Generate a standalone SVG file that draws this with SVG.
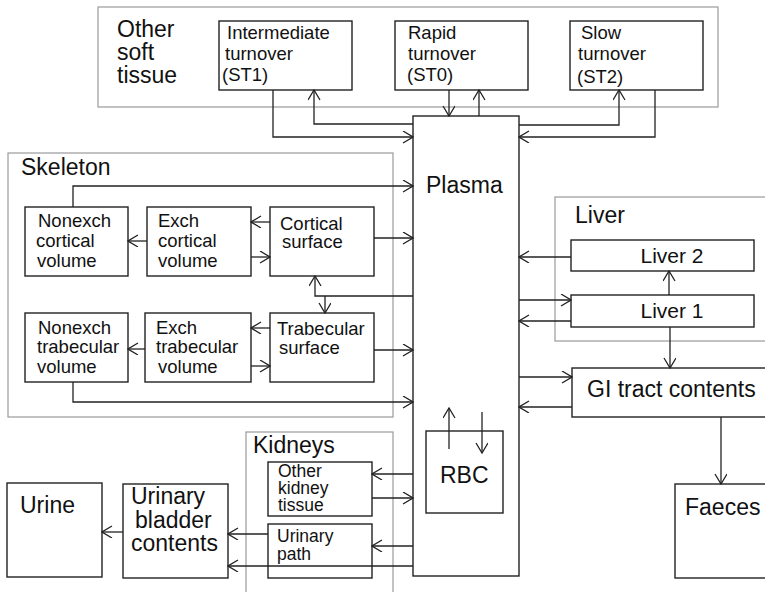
<svg xmlns="http://www.w3.org/2000/svg" width="765" height="592" viewBox="0 0 765 592">
<style>
.grp{fill:none;stroke:#9a9a9a;stroke-width:1.2}
.box{fill:#fff;stroke:#222;stroke-width:1.4}
.big{font-family:"Liberation Sans",Arial,sans-serif;font-size:23px;fill:#111}
.sm{font-family:"Liberation Sans",Arial,sans-serif;font-size:18.5px;fill:#111}
.kd{font-family:"Liberation Sans",Arial,sans-serif;font-size:17.5px;fill:#111}
.lv{font-family:"Liberation Sans",Arial,sans-serif;font-size:21px;fill:#111}
.c path{fill:none;stroke:#222;stroke-width:1.3;marker-end:url(#ah)}
</style>
<defs>
<marker id="ah" markerUnits="userSpaceOnUse" markerWidth="12" markerHeight="14" refX="11" refY="6" orient="auto">
<path d="M1,0 L11,6 L1,12" fill="none" stroke="#222" stroke-width="1.3"/>
</marker>
</defs>
<rect width="765" height="592" fill="#fff"/>

<g id="other-soft-tissue">
<rect class="grp" x="98" y="7" width="620" height="100"/>
<text class="big" x="117" y="37">Other</text>
<text class="big" x="117" y="60">soft</text>
<text class="big" x="117" y="83">tissue</text>
</g>
<g id="st1"><rect class="box" x="219" y="21" width="133" height="69"/>
<text class="sm" x="227" y="39">Intermediate</text><text class="sm" x="225" y="60">turnover</text><text class="sm" x="222" y="81">(ST1)</text></g>
<g id="st0"><rect class="box" x="395" y="21" width="133" height="69"/>
<text class="sm" x="408" y="39">Rapid</text><text class="sm" x="408" y="60">turnover</text><text class="sm" x="407" y="81">(ST0)</text></g>
<g id="st2"><rect class="box" x="570" y="21" width="133" height="69"/>
<text class="sm" x="581" y="39">Slow</text><text class="sm" x="578" y="60">turnover</text><text class="sm" x="577" y="83">(ST2)</text></g>

<g id="plasma"><rect class="box" x="413" y="116" width="106" height="460"/>
<text class="big" x="426" y="193">Plasma</text></g>
<g id="rbc"><rect class="box" x="426" y="431" width="77" height="82"/>
<text class="big" x="440" y="483">RBC</text></g>

<g id="skeleton">
<rect class="grp" x="8" y="153" width="385" height="264"/>
<text class="big" x="21" y="175">Skeleton</text>
</g>
<g id="nonexch-cortical"><rect class="box" x="25" y="207" width="103" height="69"/>
<text class="sm" x="38" y="227">Nonexch</text><text class="sm" x="36" y="247">cortical</text><text class="sm" x="37" y="267">volume</text></g>
<g id="exch-cortical"><rect class="box" x="147" y="207" width="104" height="69"/>
<text class="sm" x="158" y="227">Exch</text><text class="sm" x="158" y="247">cortical</text><text class="sm" x="158" y="267">volume</text></g>
<g id="cortical-surface"><rect class="box" x="270" y="207" width="104" height="69"/>
<text class="sm" x="280" y="230">Cortical</text><text class="sm" x="282" y="248">surface</text></g>
<g id="nonexch-trabecular"><rect class="box" x="25" y="313" width="103" height="69"/>
<text class="sm" x="38" y="334">Nonexch</text><text class="sm" x="37" y="353">trabecular</text><text class="sm" x="37" y="373">volume</text></g>
<g id="exch-trabecular"><rect class="box" x="145" y="313" width="106" height="69"/>
<text class="sm" x="156" y="334">Exch</text><text class="sm" x="156" y="353">trabecular</text><text class="sm" x="158" y="373">volume</text></g>
<g id="trabecular-surface"><rect class="box" x="270" y="313" width="104" height="69"/>
<text class="sm" x="277" y="335">Trabecular</text><text class="sm" x="279" y="354">surface</text></g>

<g id="liver">
<rect class="grp" x="555" y="197" width="220" height="144"/>
<text class="big" x="575" y="223">Liver</text>
</g>
<g id="liver2"><rect class="box" x="571" y="240" width="183" height="31"/>
<text class="lv" x="672" y="263" text-anchor="middle">Liver 2</text></g>
<g id="liver1"><rect class="box" x="571" y="295" width="183" height="32"/>
<text class="lv" x="672" y="318" text-anchor="middle">Liver 1</text></g>
<g id="gi"><rect class="box" x="572" y="368" width="200" height="49"/>
<text class="big" x="587" y="397">GI tract contents</text></g>
<g id="faeces"><rect class="box" x="675" y="484" width="100" height="94"/>
<text class="big" x="685" y="515">Faeces</text></g>

<g id="kidneys">
<rect class="grp" x="246" y="432" width="147" height="170"/>
<text class="big" x="253" y="453">Kidneys</text>
</g>
<g id="other-kidney"><rect class="box" x="268" y="462" width="104" height="54"/>
<text class="kd" x="278" y="477">Other</text><text class="kd" x="278" y="494">kidney</text><text class="kd" x="278" y="511">tissue</text></g>
<g id="urinary-path"><rect class="box" x="268" y="524" width="104" height="54"/>
<text class="kd" x="277" y="542">Urinary</text><text class="kd" x="277" y="560">path</text></g>
<g id="bladder"><rect class="box" x="123" y="484" width="105" height="94"/>
<text class="big" x="131" y="504">Urinary</text><text class="big" x="135" y="528">bladder</text><text class="big" x="131" y="551">contents</text></g>
<g id="urine"><rect class="box" x="7" y="483" width="95" height="94"/>
<text class="big" x="20" y="513">Urine</text></g>

<g id="connectors" class="c">
<path d="M273,90 V137 H413"/>
<path d="M413,124 H314 V90"/>
<path d="M449,90 V116"/>
<path d="M479,116 V90"/>
<path d="M519,125 H619 V90"/>
<path d="M655,90 V137 H519"/>
<path d="M73,207 V186 H413"/>
<path d="M270,222 H251"/>
<path d="M251,257 H270"/>
<path d="M147,241 H128"/>
<path d="M374,238 H413"/>
<path d="M413,296 H315 V276"/>
<path d="M325,296 V313"/>
<path d="M270,328 H251"/>
<path d="M251,366 H270"/>
<path d="M145,349 H128"/>
<path d="M374,350 H413"/>
<path d="M73,382 V402 H413"/>
<path d="M571,257 H519"/>
<path d="M519,300 H571"/>
<path d="M571,321 H519"/>
<path d="M669,295 V271"/>
<path d="M670,327 V368"/>
<path d="M519,377 H572"/>
<path d="M572,407 H519"/>
<path d="M721,417 V484"/>
<path d="M449,449 V408"/>
<path d="M482,412 V453"/>
<path d="M413,474 H372"/>
<path d="M372,498 H413"/>
<path d="M413,546 H372"/>
<path d="M413,566 H228"/>
<path d="M268,534 H228"/>
<path d="M123,532 H102"/>
</g>
</svg>
